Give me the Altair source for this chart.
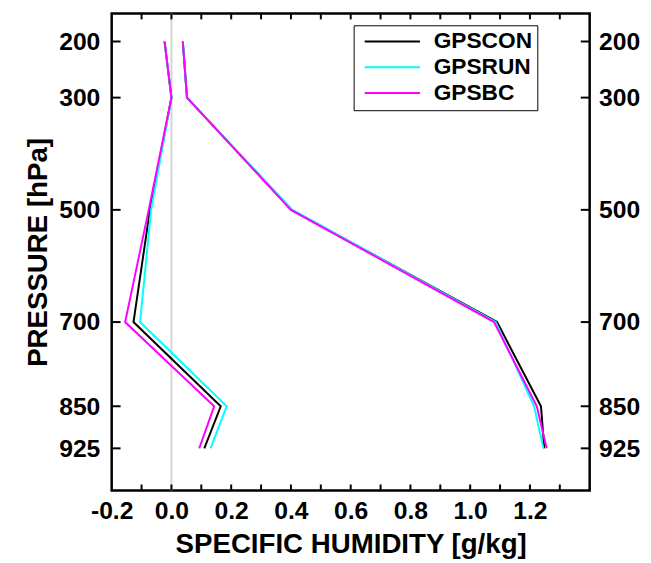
import altair as alt
import pandas as pd

# ---- data ----
pressure = [200, 300, 500, 700, 850, 925]
series = ["GPSCON", "GPSRUN", "GPSBC"]
colors = ["#000000", "#00ffff", "#ff00ff"]

# left profile
con_a = [-0.023, 0.000, -0.072, -0.127, 0.165, 0.110]
run_a = [-0.023, 0.000, -0.068, -0.105, 0.185, 0.131]
bc_a = [-0.023, 0.000, -0.076, -0.155, 0.143, 0.093]
# right profile
con_b = [0.038, 0.052, 0.402, 1.090, 1.237, 1.248]
run_b = [0.038, 0.052, 0.405, 1.085, 1.214, 1.245]
bc_b = [0.038, 0.052, 0.400, 1.080, 1.223, 1.256]

x_labels = [-0.2, 0.0, 0.2, 0.4, 0.6, 0.8, 1.0, 1.2]
x_minor = [-0.1, 0.0, 0.1, 0.2, 0.3, 0.4, 0.5, 0.6, 0.7, 0.8, 0.9, 1.0, 1.1, 1.2, 1.3]
x_domain = [-0.2, 1.4]
y_domain = [150, 1000]

W, H = 484, 483
FONT = "Liberation Sans"

rows = []
for name, a, b in [("GPSCON", con_a, con_b), ("GPSRUN", run_a, run_b), ("GPSBC", bc_a, bc_b)]:
    for p, v in zip(pressure, a):
        rows.append({"series": name, "profile": "a", "p": p, "q": v})
    for p, v in zip(pressure, b):
        rows.append({"series": name, "profile": "b", "p": p, "q": v})
df = pd.DataFrame(rows)

xs = alt.Scale(domain=x_domain, nice=False, zero=False)
ys = alt.Scale(domain=y_domain, nice=False, zero=False, reverse=True)

x_axis = alt.Axis(
    values=x_labels, ticks=False, domain=False, grid=False,
    labelFlush=False, labelOverlap=False,
    labelExpr="(datum.value < 0 ? '-' : '') + format(abs(datum.value), '.1f')",
    labelPadding=8, title="SPECIFIC HUMIDITY [g/kg]", titlePadding=8,
)
y_axis_left = alt.Axis(
    values=pressure, ticks=False, domain=False, grid=False, orient="left",
    labelFlush=False, labelOverlap=False,
    labelPadding=12, title="PRESSURE [hPa]", titlePadding=6,
)
y_axis_right = alt.Axis(
    values=pressure, ticks=False, domain=False, grid=False, orient="right",
    labelFlush=False, labelOverlap=False,
    labelPadding=9, title=None,
)

zero = alt.Chart(pd.DataFrame({"x": [0.0]})).mark_rule(
    color="#d4d4d4", strokeWidth=2
).encode(x=alt.X("x:Q", scale=xs, axis=x_axis))

color = alt.Color(
    "series:N",
    scale=alt.Scale(domain=series, range=colors),
    legend=alt.Legend(title=None),
)

line_layers = []
for name in series:
    line_layers.append(
        alt.Chart(df).transform_filter(alt.datum.series == name)
        .mark_line(strokeWidth=2)
        .encode(
            x=alt.X("q:Q", scale=xs, axis=x_axis),
            y=alt.Y("p:Q", scale=ys, axis=y_axis_left),
            color=color,
            detail="profile:N",
            order=alt.Order("p:Q"),
        )
    )

ydf = pd.DataFrame({"p": pressure})
xdf = pd.DataFrame({"x": x_minor})

left_ticks = alt.Chart(ydf).mark_rule(color="black", strokeWidth=2).encode(
    y=alt.Y("p:Q", scale=ys, axis=y_axis_left), x=alt.value(0), x2=alt.value(9)
)
bottom_ticks = alt.Chart(xdf).mark_rule(color="black", strokeWidth=2).encode(
    x=alt.X("x:Q", scale=xs, axis=x_axis), y=alt.value(H - 6), y2=alt.value(H)
)
top_ticks = alt.Chart(xdf).mark_rule(color="black", strokeWidth=2).encode(
    x=alt.X("x:Q", scale=xs, axis=x_axis), y=alt.value(0), y2=alt.value(6)
)
right_ticks = alt.Chart(ydf).mark_rule(color="black", strokeWidth=2).encode(
    y=alt.Y("p:Q", scale=ys, axis=y_axis_right), x=alt.value(W - 9), x2=alt.value(W)
)

main = alt.layer(zero, *line_layers, left_ticks, bottom_ticks, top_ticks)

chart = (
    alt.layer(main, right_ticks)
    .resolve_scale(y="independent")
    .properties(
        width=W, height=H,
        autosize=alt.AutoSizeParams(type="none"),
        padding={"left": 105, "top": 2, "right": 54, "bottom": 72},
    )
    .configure_view(stroke="black", strokeWidth=2.5)
    .configure_axis(
        labelFont=FONT, labelFontSize=25, labelFontWeight="bold", labelColor="black",
        titleFont=FONT, titleFontSize=28, titleFontWeight="bold", titleColor="black",
    )
    .configure_legend(
        orient="none", legendX=245, legendY=12,
        strokeColor="black", fillColor="white", padding=5,
        symbolType="M-0.57,0H5.43", symbolSize=348, symbolStrokeWidth=2,
        labelFont=FONT, labelFontSize=23, labelFontWeight="bold", labelColor="black",
        labelOffset=53, rowPadding=2,
    )
)

chart.save("out.html", embed_options={"renderer": "svg", "actions": False})
